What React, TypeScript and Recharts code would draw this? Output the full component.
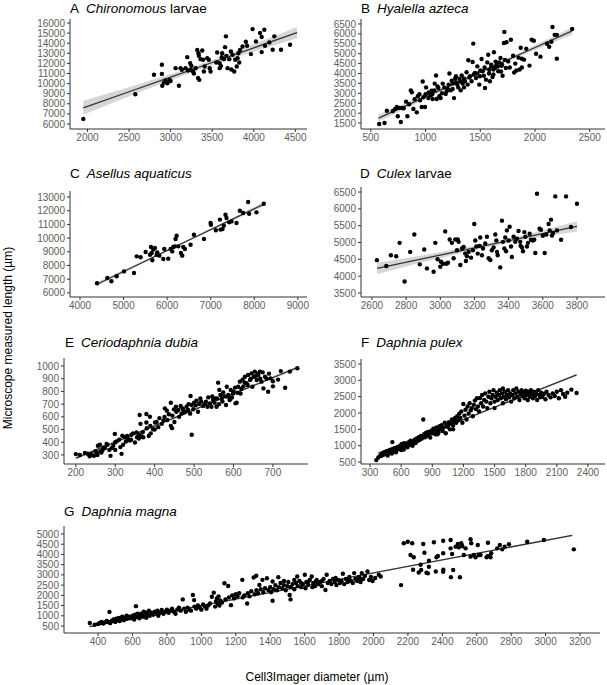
import React from "react";
import { ComposedChart, Scatter, Line, Area, XAxis, YAxis } from "recharts";

type Pt = [number, number];

// A  Chironomous larvae
const chironomusPts: Pt[] = [
  [1950, 6500], [2575, 8950], [2800, 10870], [2895, 11860], [2895, 10960], [2900, 9780], [2920, 10100],
  [2940, 10300], [2960, 10040], [2990, 10370], [3000, 10250], [3060, 11530], [3100, 9780], [3120, 11530],
  [3135, 11370], [3180, 11530], [3200, 12620], [3235, 12030], [3240, 11370], [3250, 11760], [3270, 11200],
  [3300, 11530], [3320, 13340], [3335, 13010], [3340, 12750], [3330, 10550], [3345, 10370], [3360, 12420],
  [3380, 13280], [3390, 12360], [3400, 11200], [3410, 11690], [3440, 12520], [3460, 12360], [3470, 11530],
  [3550, 12090], [3560, 13080], [3590, 12030], [3590, 11530], [3605, 11760], [3615, 12620], [3620, 13010],
  [3640, 12420], [3655, 13610], [3665, 14680], [3670, 12750], [3685, 11530], [3705, 12420], [3725, 13180],
  [3745, 12850], [3765, 11200], [3777, 12360], [3795, 11690], [3805, 12520], [3815, 13010], [3825, 12090],
  [3835, 13340], [3865, 13680], [3905, 14150], [3920, 13750], [3966, 12920], [3985, 15400], [4026, 14180],
  [4075, 15010], [4095, 14610], [4127, 15340], [4095, 13120], [4135, 13750], [4187, 14080], [4227, 13350],
  [4327, 13350], [4247, 14680], [4436, 13850], [3730, 11400], [3480, 11200], [3280, 11000], [3210, 11300],
];
const chironomusFitX = [1950, 2500, 3000, 3500, 4000, 4520];
const chironomusFitMid = [7600, 9190, 10640, 12090, 13540, 15050];
const chironomusFitLo = [6900, 8740, 10340, 11840, 13160, 14500];
const chironomusFitHi = [8300, 9640, 10940, 12340, 13920, 15600];

// B  Hyalella azteca
const hyalellaPts: Pt[] = [
  [576, 1450], [625, 1500], [646, 2120], [737, 2310], [746, 1840], [774, 1550], [758, 2260], [786, 2260],
  [822, 2580], [834, 1840], [865, 3150], [875, 3050], [889, 2210], [920, 2040], [929, 2850], [944, 2950],
  [965, 2310], [974, 3600], [995, 2310], [1005, 3300], [1026, 2760], [1047, 2900], [1056, 3130], [1065, 2710],
  [1084, 3490], [1096, 3900], [1102, 2710], [1117, 3270], [1126, 2850], [1138, 2760], [1157, 3490], [1172, 3300],
  [1184, 2970], [1193, 3100], [1211, 3440], [1218, 4000], [1239, 3640], [1248, 3220], [1260, 2760], [1269, 3730],
  [1278, 3860], [1290, 3440], [1299, 3300], [1309, 3730], [1321, 3150], [1330, 3900], [1339, 3490], [1351, 3300],
  [1360, 3610], [1375, 4060], [1385, 3440], [1391, 4670], [1406, 3860], [1421, 3610], [1430, 4580], [1436, 5510],
  [1451, 4030], [1461, 3770], [1473, 4360], [1491, 3440], [1497, 3860], [1512, 4730], [1521, 4110], [1533, 3890],
  [1543, 3270], [1552, 3690], [1564, 4560], [1573, 4950], [1582, 4190], [1588, 3610], [1603, 4360], [1612, 3820],
  [1625, 5070], [1634, 4280], [1649, 4450], [1664, 4110], [1673, 4560], [1685, 4780], [1695, 4390], [1704, 3890],
  [1716, 5540], [1725, 4690], [1734, 4280], [1740, 5580], [1755, 4610], [1720, 6100], [1780, 5700], [1800, 4900],
  [1820, 4500], [1850, 4800], [1870, 5300], [1880, 4300], [1900, 4700], [1920, 5250], [1950, 4400], [1970, 5700],
  [1990, 5650], [2010, 5000], [2050, 4850], [2110, 5500], [2130, 5350], [2150, 5600], [2160, 6350], [2180, 5950],
  [2200, 5950], [2200, 4750], [2340, 6250], [1830, 4150], [1860, 4200], [1770, 4300], [1690, 4100], [1810, 4050],
  [1880, 4750], [1640, 4600], [1600, 4450], [700, 2100], [720, 2200], [800, 2250], [850, 2450], [900, 2700],
  [950, 2650], [980, 2800], [1000, 2950], [1030, 3050], [1060, 2950], [1080, 3150], [1110, 3350], [1150, 3000],
  [1200, 3250], [1230, 3150], [1250, 3500], [1280, 3550], [1320, 3600], [1350, 3750], [1400, 3800], [1440, 3950],
  [1470, 4000], [1500, 4150], [1540, 4300], [1580, 4000], [1620, 4200], [1660, 4350], [1700, 4450], [1620, 3950],
];
const hyalellaFitX = [570, 1000, 1450, 1900, 2340];
const hyalellaFitMid = [1750, 2820, 3940, 5060, 6150];
const hyalellaFitLo = [1570, 2730, 3870, 4960, 5960];
const hyalellaFitHi = [1930, 2910, 4010, 5160, 6340];

// C  Asellus aquaticus
const asellusPts: Pt[] = [
  [4390, 6700], [4720, 6850], [4627, 7090], [4841, 7210], [5009, 7570], [5239, 7450], [5300, 8670], [5391, 8600],
  [5506, 8990], [5606, 8790], [5628, 9350], [5644, 8910], [5659, 8380], [5682, 9160], [5720, 9280], [5758, 8790],
  [5774, 8960], [5820, 8720], [5911, 8470], [5934, 9200], [6025, 8500], [6080, 9200], [6118, 9030], [6141, 9350],
  [6194, 9930], [6217, 10180], [6179, 9400], [6255, 9400], [6316, 8910], [6347, 8720], [6370, 9350], [6408, 9200],
  [6538, 9520], [6615, 10250], [6845, 9930], [6997, 11100], [7005, 10980], [7118, 10570], [7211, 11350],
  [7225, 10620], [7271, 10670], [7301, 10910], [7339, 11710], [7362, 11470], [7423, 11150], [7477, 11220],
  [7592, 11100], [7668, 12000], [7745, 11830], [7859, 12640], [7882, 11780], [8050, 11880], [8218, 12510],
];
const asellusFitX = [4400, 5300, 6300, 7300, 8200];
const asellusFitMid = [6650, 8020, 9550, 11080, 12450];
const asellusFitLo = [6500, 7930, 9480, 10990, 12300];
const asellusFitHi = [6800, 8110, 9620, 11170, 12600];

// D  Culex larvae
const culexPts: Pt[] = [
  [2629, 4475], [2684, 4300], [2711, 4620], [2742, 4590], [2762, 4990], [2791, 3840], [2824, 4720], [2848, 5240],
  [2906, 4790], [2922, 4230], [2961, 4130], [2971, 4990], [2984, 4500], [3000, 4280], [3004, 4430], [3016, 4370],
  [3029, 5330], [3035, 4370], [3045, 4400], [3055, 5090], [3068, 4990], [3078, 4530], [3088, 5090], [3098, 4770],
  [3102, 5090], [3107, 5020], [3117, 4330], [3127, 4820], [3137, 4870], [3146, 4670], [3156, 4590], [3166, 4720],
  [3180, 4550], [3191, 4770], [3199, 5550], [3205, 5060], [3211, 4880], [3219, 4670], [3234, 5150], [3244, 4620],
  [3250, 4820], [3263, 4970], [3273, 5170], [3283, 4530], [3293, 4480], [3302, 4770], [3312, 4850], [3322, 5240],
  [3328, 5060], [3332, 4720], [3336, 4620], [3351, 4260], [3361, 5650], [3367, 5020], [3375, 4820], [3380, 5150],
  [3385, 4740], [3390, 5360], [3400, 5060], [3406, 5470], [3414, 4880], [3419, 4570], [3429, 5170], [3439, 5020],
  [3449, 5110], [3458, 5340], [3468, 5020], [3478, 4850], [3484, 4740], [3492, 5310], [3498, 5170], [3507, 4880],
  [3513, 4990], [3523, 5260], [3531, 5080], [3542, 5060], [3550, 5080], [3566, 6450], [3581, 5410], [3589, 5380],
  [3556, 4690], [3611, 4690], [3620, 5240], [3634, 5550], [3640, 5360], [3648, 5680], [3654, 5210], [3660, 5280],
  [3673, 6370], [3683, 5360], [3707, 5080], [3736, 6370], [3765, 5460], [3800, 6150], [2880, 4350], [3150, 4450],
  [3230, 4900], [3470, 4900], [3600, 5200],
];
const culexFitX = [2630, 2900, 3200, 3500, 3800];
const culexFitMid = [4230, 4520, 4840, 5160, 5480];
const culexFitLo = [4060, 4420, 4780, 5090, 5330];
const culexFitHi = [4400, 4620, 4900, 5230, 5630];

// E  Ceriodaphnia dubia
const ceriodaphniaPts: Pt[] = [
  [200, 307], [223, 315], [240, 307], [246, 293], [252, 320], [256, 372], [261, 380], [262, 327], [268, 340],
  [274, 354], [278, 387], [285, 340], [288, 293], [291, 354], [295, 372], [299, 466], [303, 406], [313, 362],
  [316, 309], [318, 451], [324, 440], [327, 406], [333, 424], [337, 413], [341, 459], [350, 398], [354, 477],
  [361, 459], [364, 545], [367, 445], [371, 440], [379, 555], [389, 529], [396, 503], [401, 555], [409, 519],
  [422, 571], [441, 529], [444, 511], [494, 459], [362, 614], [379, 622], [388, 601], [426, 667], [431, 648],
  [441, 711], [449, 659], [454, 680], [460, 654], [466, 685], [471, 667], [474, 633], [481, 680], [485, 654],
  [491, 764], [494, 693], [500, 711], [506, 727], [513, 701], [516, 745], [523, 685], [530, 719], [536, 753],
  [540, 706], [544, 680], [548, 732], [553, 745], [557, 680], [561, 869], [564, 812], [567, 773], [570, 740],
  [574, 792], [578, 761], [581, 693], [583, 837], [587, 773], [590, 732], [593, 812], [596, 753], [599, 784],
  [605, 706], [608, 711], [612, 837], [616, 877], [618, 784], [623, 893], [625, 840], [629, 916], [633, 864],
  [637, 929], [642, 890], [646, 942], [648, 837], [652, 916], [654, 956], [659, 890], [663, 929], [667, 956],
  [671, 877], [676, 824], [680, 916], [688, 797], [694, 903], [713, 893], [731, 829], [743, 956], [762, 982],
  [405, 560], [412, 590], [418, 545], [425, 600], [432, 575], [436, 620], [445, 610], [450, 560], [455, 640],
  [462, 600], [468, 625], [472, 655], [478, 640], [486, 700], [490, 625], [498, 660], [504, 690], [510, 640],
  [518, 720], [526, 700], [534, 680], [546, 760], [552, 710], [558, 745], [563, 700], [568, 770], [572, 720],
  [585, 760], [592, 740], [600, 800], [604, 830], [610, 790], [620, 820], [628, 870], [636, 850], [644, 900],
  [656, 920], [662, 940], [668, 900], [674, 950], [684, 900], [690, 940], [700, 880], [720, 960], [700, 840],
  [210, 300], [230, 310], [250, 330], [270, 360], [280, 380], [300, 400], [310, 420], [320, 380], [330, 450],
  [345, 470], [355, 440], [370, 480], [380, 510], [390, 470], [400, 500], [385, 450], [360, 430], [340, 420],
  [300, 340], [265, 320], [255, 300], [235, 290],
];
const ceriodaphniaFitX = [200, 400, 600, 760];
const ceriodaphniaFitMid = [275, 529, 782, 985];
const ceriodaphniaFitLo = [263, 522, 775, 971];
const ceriodaphniaFitHi = [287, 536, 789, 999];

// F  Daphnia pulex
const pulexPts: Pt[] = [
  [360, 560], [380, 640], [400, 700], [410, 690], [420, 760], [430, 720], [440, 800], [450, 760], [460, 830],
  [470, 700], [480, 780], [490, 870], [500, 820], [510, 760], [515, 1110], [520, 900], [530, 850], [540, 920],
  [550, 800], [560, 880], [570, 960], [580, 900], [590, 1000], [600, 870], [605, 1050], [610, 940], [620, 1010],
  [625, 880], [630, 1080], [640, 980], [650, 1040], [660, 950], [670, 1100], [680, 1020], [690, 1150], [700, 1080],
  [710, 1000], [720, 1120], [730, 1180], [740, 1080], [750, 1220], [760, 1150], [770, 1260], [780, 1180],
  [790, 1300], [800, 1220], [813, 1800], [820, 1350], [830, 1260], [840, 1400], [850, 1300], [860, 1420],
  [870, 1350], [880, 1250], [890, 1460], [900, 1380], [910, 1520], [920, 1430], [930, 1350], [940, 1560],
  [950, 1480], [960, 1400], [970, 1600], [980, 1500], [990, 1630], [1000, 1450], [1010, 1560], [1020, 1700],
  [1030, 1380], [1040, 1650], [1050, 1580], [1060, 1720], [1070, 1500], [1080, 1680], [1090, 1800], [1100, 1620],
  [1110, 1750], [1120, 1850], [1130, 1700], [1140, 1900], [1150, 1780], [1160, 1980], [1170, 1850], [1180, 2050],
  [1190, 1700], [1199, 2275], [1210, 1920], [1220, 2100], [1230, 1800], [1240, 2200], [1250, 1980], [1260, 2300],
  [1270, 2080], [1280, 2150], [1290, 1900], [1300, 2250], [1310, 2380], [1320, 2120], [1330, 2450], [1340, 2200],
  [1350, 2050], [1360, 2460], [1370, 2300], [1380, 2550], [1390, 2200], [1400, 2400], [1410, 2600], [1420, 2350],
  [1430, 2150], [1440, 2500], [1450, 2650], [1460, 2300], [1470, 2450], [1480, 2550], [1490, 2700], [1500, 2350],
  [1510, 2500], [1520, 2620], [1530, 2400], [1540, 2550], [1550, 2700], [1560, 2450], [1570, 2600], [1580, 2300],
  [1590, 2500], [1600, 2650], [1610, 2420], [1620, 2560], [1630, 2700], [1640, 2480], [1650, 2600], [1660, 2350],
  [1670, 2550], [1680, 2700], [1690, 2450], [1700, 2600], [1710, 2750], [1720, 2500], [1730, 2650], [1740, 2400],
  [1750, 2580], [1760, 2700], [1770, 2520], [1780, 2620], [1790, 2450], [1800, 2680], [1810, 2550], [1820, 2400],
  [1830, 2620], [1840, 2500], [1850, 2700], [1860, 2580], [1870, 2450], [1880, 2650], [1890, 2520], [1900, 2600],
  [1910, 2400], [1920, 2700], [1930, 2550], [1940, 2480], [1950, 2620], [1960, 2500], [1975, 2580], [1990, 2420],
  [2000, 2650], [2020, 2550], [2040, 2480], [2060, 2600], [2080, 2520], [2100, 2650], [2120, 2450], [2140, 2700],
  [2160, 2580], [2180, 2500], [2200, 2620], [2240, 2715], [2290, 2612], [1820, 2650], [1580, 2750], [1500, 2150],
  [1100, 1500], [950, 1350],
];
const pulexFitX = [380, 1000, 1600, 2290];
const pulexFitMid = [770, 1548, 2300, 3165];
const pulexFitLo = [745, 1535, 2285, 3125];
const pulexFitHi = [795, 1561, 2315, 3205];

// G  Daphnia magna
const magnaPts: Pt[] = [
  [352, 648], [380, 560], [400, 600], [410, 650], [420, 700], [430, 620], [440, 680], [450, 750], [460, 700],
  [466, 1190], [470, 640], [480, 760], [490, 820], [500, 700], [505, 860], [510, 780], [520, 900], [525, 740],
  [530, 820], [540, 950], [545, 880], [550, 780], [560, 900], [565, 1000], [570, 850], [580, 950], [590, 880],
  [600, 1000], [605, 920], [610, 820], [615, 1050], [620, 1472], [625, 950], [630, 1100], [640, 880], [645, 1000],
  [650, 1100], [660, 950], [665, 1200], [670, 1050], [675, 1150], [680, 900], [690, 1100], [695, 1250], [700, 1000],
  [710, 1150], [720, 1050], [730, 1200], [740, 1100], [745, 1250], [750, 1000], [760, 1150], [770, 1280],
  [780, 1100], [790, 1200], [800, 1300], [810, 1150], [820, 1250], [830, 1350], [840, 1200], [850, 1100],
  [860, 1300], [870, 1400], [880, 1250], [892, 1801], [900, 1350], [910, 1200], [920, 1400], [930, 1300],
  [940, 1250], [951, 2016], [958, 1768], [960, 1450], [970, 1350], [980, 1500], [990, 1400], [1000, 1300],
  [1010, 1550], [1020, 1450], [1030, 1350], [1040, 1500], [1050, 1600], [1061, 1933], [1072, 2131], [1080, 1450],
  [1085, 1700], [1090, 1850], [1095, 1600], [1100, 1950], [1105, 1500], [1110, 1750], [1120, 1650], [1134, 2592],
  [1140, 1800], [1156, 2460], [1160, 1900], [1172, 1521], [1180, 2000], [1190, 1850], [1200, 2050], [1210, 1950],
  [1220, 2100], [1238, 2757], [1240, 1900], [1250, 2000], [1266, 1604], [1270, 2100], [1280, 1950], [1290, 2200],
  [1304, 2872], [1310, 2050], [1319, 2955], [1320, 2250], [1330, 2100], [1337, 2510], [1345, 2300], [1355, 2757],
  [1360, 2150], [1370, 2350], [1381, 2839], [1390, 2250], [1400, 2400], [1405, 2150], [1414, 1736], [1414, 2675],
  [1420, 2300], [1430, 2500], [1440, 2250], [1447, 2889], [1450, 2400], [1460, 2600], [1470, 2350], [1480, 2500],
  [1490, 2250], [1500, 2450], [1505, 2650], [1513, 2016], [1518, 1801], [1520, 2400], [1530, 2550], [1540, 2300],
  [1550, 2600], [1557, 2922], [1560, 2450], [1570, 2700], [1580, 2400], [1590, 2550], [1601, 3004], [1605, 2350],
  [1610, 2650], [1620, 2500], [1630, 2750], [1641, 2922], [1645, 2400], [1650, 2600], [1660, 2450], [1666, 2675],
  [1670, 2750], [1680, 2550], [1690, 2650], [1700, 2450], [1710, 2800], [1721, 2263], [1728, 3004], [1735, 2600],
  [1745, 2700], [1755, 2550], [1765, 2800], [1775, 2650], [1785, 2500], [1795, 2750], [1805, 2600], [1815, 2700],
  [1822, 3054], [1830, 2550], [1840, 2800], [1850, 2650], [1860, 2900], [1870, 2700], [1880, 2600], [1888, 3087],
  [1895, 2800], [1905, 2700], [1915, 2900], [1925, 2650], [1932, 3087], [1940, 2800], [1950, 2950], [1965, 3169],
  [1975, 2750], [1985, 2900], [1995, 2700], [2010, 2850], [2031, 3004], [2042, 2922], [2160, 2500], [2230, 3251],
  [2263, 3119], [2274, 3498], [2362, 3169], [2406, 3251], [2450, 2889], [2176, 4546], [2199, 4624], [2225, 4546],
  [2215, 3974], [2234, 3860], [2277, 3240], [2289, 4512], [2296, 4086], [2308, 3108], [2322, 3400], [2316, 3075],
  [2322, 3695], [2351, 4595], [2366, 3860], [2374, 3925], [2405, 4673], [2405, 4055], [2405, 3157], [2448, 4707],
  [2448, 4298], [2457, 4022], [2463, 3240], [2477, 4380], [2490, 4512], [2496, 4347], [2502, 2882], [2510, 4546],
  [2516, 4412], [2525, 3974], [2535, 4298], [2564, 4741], [2568, 4546], [2564, 3892], [2583, 3974], [2593, 3860],
  [2606, 4463], [2612, 3974], [2622, 3974], [2657, 3860], [2665, 4575], [2665, 3925], [2680, 3860], [2684, 4055],
  [2719, 4298], [2734, 4463], [2748, 4249], [2762, 4380], [2787, 4497], [2893, 4624], [2990, 4707], [3164, 4249],
  [1480, 2700], [1540, 2750], [1620, 2650], [1700, 2700], [1780, 2850], [1860, 2750], [1920, 2850], [1580, 2600],
];
const magnaFitX = [350, 1200, 2000, 2700, 3155];
const magnaFitMid = [470, 1820, 3095, 4210, 4935];
const magnaFitLo = [440, 1800, 3075, 4180, 4895];
const magnaFitHi = [500, 1840, 3115, 4240, 4975];

const FONT = "'Liberation Sans', Arial, sans-serif";
const YW = 45; // room for y tick labels
const XH = 22; // room for x tick labels
const PAD = 5;

const tickStyle = { fill: "#5e5e5e", fontSize: 10, fontFamily: FONT };

const dot = (p: any) => <circle cx={p.cx} cy={p.cy} r={2.2} fill="#000" />;

interface PanelProps {
  box: [number, number, number, number]; // plot area: left, top, right, bottom
  xDomain: [number, number];
  yDomain: [number, number];
  xTicks: number[];
  yTicks: number[];
  pts: Pt[];
  fitX: number[];
  fitMid: number[];
  fitLo: number[];
  fitHi: number[];
}

const Panel: React.FC<PanelProps> = ({ box, xDomain, yDomain, xTicks, yTicks, pts, fitX, fitMid, fitLo, fitHi }) => {
  const [l, t, r, b] = box;
  const points = pts.map(([x, y]) => ({ x, y }));
  const fit = fitX.map((x, i) => ({ x, y: fitMid[i], band: [fitLo[i], fitHi[i]] }));
  return (
    <div style={{ position: "absolute", left: l - YW, top: t - PAD }}>
      <ComposedChart
        width={r - l + YW + PAD}
        height={b - t + XH + PAD}
        margin={{ top: PAD, right: PAD, bottom: 0, left: 0 }}
      >
        <XAxis
          type="number"
          dataKey="x"
          domain={xDomain}
          ticks={xTicks}
          allowDataOverflow
          interval={0}
          height={XH}
          tickSize={3}
          tickMargin={2}
          tick={tickStyle}
          stroke="#333"
        />
        <YAxis
          type="number"
          domain={yDomain}
          ticks={yTicks}
          allowDataOverflow
          interval={0}
          width={YW}
          tickSize={3}
          tickMargin={2}
          tick={tickStyle}
          stroke="#333"
        />
        <Scatter data={points} dataKey="y" shape={dot} isAnimationActive={false} />
        <Area data={fit} dataKey="band" stroke="none" fill="#999" fillOpacity={0.4} isAnimationActive={false} />
        <Line data={fit} dataKey="y" stroke="#333" strokeWidth={1.3} dot={false} isAnimationActive={false} />
      </ComposedChart>
    </div>
  );
};

const Title = ({ x, y, letter, name, suffix }: { x: number; y: number; letter: string; name: string; suffix?: string }) => (
  <text x={x} y={y} fontSize={13.5} fontFamily={FONT} fill="#000">
    <tspan>{letter}</tspan>
    <tspan dx={7} fontStyle="italic">{name}</tspan>
    {suffix ? <tspan> {suffix}</tspan> : null}
  </text>
);

export default function App() {
  return (
    <div style={{ position: "absolute", left: 0, top: 0, width: 607, height: 685, background: "#fff" }}>
      <svg width={607} height={685} style={{ position: "absolute", left: 0, top: 0 }}>
        <Title x={70} y={13} letter="A" name="Chironomous" suffix="larvae" />
        <Title x={361} y={13} letter="B" name="Hyalella azteca" />
        <Title x={70} y={178} letter="C" name="Asellus aquaticus" />
        <Title x={360} y={178} letter="D" name="Culex" suffix="larvae" />
        <Title x={65} y={347} letter="E" name="Ceriodaphnia dubia" />
        <Title x={361} y={347} letter="F" name="Daphnia pulex" />
        <Title x={64} y={516} letter="G" name="Daphnia magna" />
        <text
          transform="translate(12, 338) rotate(-90)"
          textAnchor="middle"
          fontSize={12}
          fontFamily={FONT}
          fill="#000"
        >
          Microscope measured length (µm)
        </text>
        <text x={317} y={681} textAnchor="middle" fontSize={12} fontFamily={FONT} fill="#000">
          Cell3Imager diameter (µm)
        </text>
      </svg>

      <Panel
        box={[70, 19, 307, 129]}
        xDomain={[1790, 4640]}
        yDomain={[5500, 16400]}
        xTicks={[2000, 2500, 3000, 3500, 4000, 4500]}
        yTicks={[6000, 7000, 8000, 9000, 10000, 11000, 12000, 13000, 14000, 15000, 16000]}
        pts={chironomusPts}
        fitX={chironomusFitX}
        fitMid={chironomusFitMid}
        fitLo={chironomusFitLo}
        fitHi={chironomusFitHi}
      />
      <Panel
        box={[361, 19, 605, 129]}
        xDomain={[410, 2640]}
        yDomain={[1200, 6750]}
        xTicks={[500, 1000, 1500, 2000, 2500]}
        yTicks={[1500, 2000, 2500, 3000, 3500, 4000, 4500, 5000, 5500, 6000, 6500]}
        pts={hyalellaPts}
        fitX={hyalellaFitX}
        fitMid={hyalellaFitMid}
        fitLo={hyalellaFitLo}
        fitHi={hyalellaFitHi}
      />
      <Panel
        box={[70, 191, 307, 297]}
        xDomain={[3770, 9210]}
        yDomain={[5700, 13440]}
        xTicks={[4000, 5000, 6000, 7000, 8000, 9000]}
        yTicks={[6000, 7000, 8000, 9000, 10000, 11000, 12000, 13000]}
        pts={asellusPts}
        fitX={asellusFitX}
        fitMid={asellusFitMid}
        fitLo={asellusFitLo}
        fitHi={asellusFitHi}
      />
      <Panel
        box={[361, 187, 605, 297]}
        xDomain={[2536, 3964]}
        yDomain={[3380, 6650]}
        xTicks={[2600, 2800, 3000, 3200, 3400, 3600, 3800]}
        yTicks={[3500, 4000, 4500, 5000, 5500, 6000, 6500]}
        pts={culexPts}
        fitX={culexFitX}
        fitMid={culexFitMid}
        fitLo={culexFitLo}
        fitHi={culexFitHi}
      />
      <Panel
        box={[64, 358, 308, 464]}
        xDomain={[170, 789]}
        yDomain={[229, 1063]}
        xTicks={[200, 300, 400, 500, 600, 700]}
        yTicks={[300, 400, 500, 600, 700, 800, 900, 1000]}
        pts={ceriodaphniaPts}
        fitX={ceriodaphniaFitX}
        fitMid={ceriodaphniaFitMid}
        fitLo={ceriodaphniaFitLo}
        fitHi={ceriodaphniaFitHi}
      />
      <Panel
        box={[361, 359, 605, 464]}
        xDomain={[213, 2564]}
        yDomain={[440, 3653]}
        xTicks={[300, 600, 900, 1200, 1500, 1800, 2100, 2400]}
        yTicks={[500, 1000, 1500, 2000, 2500, 3000, 3500]}
        pts={pulexPts}
        fitX={pulexFitX}
        fitMid={pulexFitMid}
        fitLo={pulexFitLo}
        fitHi={pulexFitHi}
      />
      <Panel
        box={[64, 526, 600, 633]}
        xDomain={[202, 3316]}
        yDomain={[158, 5391]}
        xTicks={[400, 600, 800, 1000, 1200, 1400, 1600, 1800, 2000, 2200, 2400, 2600, 2800, 3000, 3200]}
        yTicks={[500, 1000, 1500, 2000, 2500, 3000, 3500, 4000, 4500, 5000]}
        pts={magnaPts}
        fitX={magnaFitX}
        fitMid={magnaFitMid}
        fitLo={magnaFitLo}
        fitHi={magnaFitHi}
      />
    </div>
  );
}
